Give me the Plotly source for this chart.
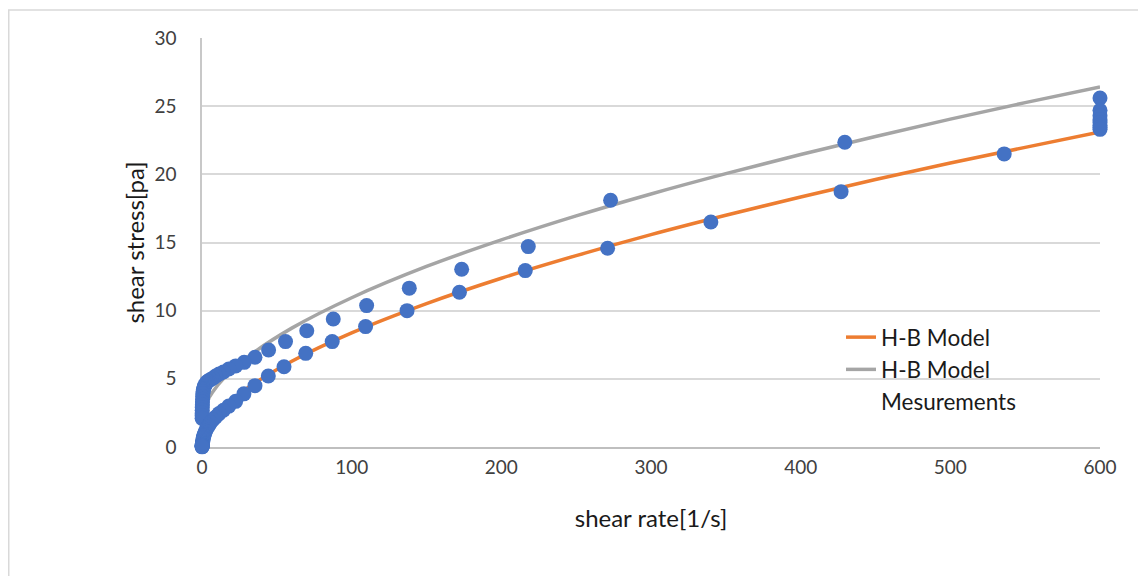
import plotly.graph_objects as go

# ---- data ----
model_x = [0, 1, 3, 7, 15, 30, 60, 100, 150, 200, 250, 300, 350, 400, 450, 500, 550, 600]
model_orange = [0.2, 0.78, 1.29, 1.97, 2.95, 4.29, 6.29, 8.37, 10.52, 12.38, 14.04, 15.58,
                17.00, 18.34, 19.62, 20.83, 21.98, 23.1]
model_gray = [2.0, 2.68, 3.26, 4.02, 5.09, 6.56, 8.72, 10.95, 13.24, 15.19, 16.95, 18.56,
              20.05, 21.45, 22.78, 24.05, 25.26, 26.41]

meas_upper_x = [600, 600, 600, 600, 600, 600, 600, 600, 429.5, 273, 218, 173.5, 138.5, 110,
                87.7, 70, 55.8, 44.5, 35.4, 28.2, 22.5, 17.9, 14.3, 11.4, 9.1, 7.3, 5.8, 4.6,
                3.7, 2.9, 2.3, 1.8, 1.45, 1.15, 0.92, 0.73, 0.58, 0.46, 0.37, 0.29, 0.23, 0.18,
                0.15, 0.12, 0.09, 0.07]
meas_upper_y = [25.6, 24.7, 24.3, 24.0, 23.8, 23.6, 23.45, 23.3, 22.35, 18.1, 14.7, 13.04, 11.65,
                10.37, 9.39, 8.53, 7.73, 7.12, 6.58, 6.21, 5.95, 5.72, 5.5, 5.35, 5.2, 5.05,
                4.95, 4.88, 4.8, 4.7, 4.6, 4.5, 4.4, 4.3, 4.2, 4.05, 3.9, 3.7, 3.5, 3.3, 3.1,
                2.9, 2.7, 2.5, 2.3, 2.1]

meas_lower_x = [536, 427, 340, 271, 216, 172, 137, 109.3, 87, 69.3, 54.8, 44.3, 35.4, 28, 22.5,
                17.9, 14.3, 11.4, 9.1, 7.3, 5.8, 4.6, 3.7, 2.9, 2.3, 1.8, 1.45, 1.15, 0.92,
                0.73, 0.58, 0.46, 0.37, 0.29, 0.23, 0.18, 0.15, 0.12, 0.09, 0.07, 0.06, 0.05]
meas_lower_y = [21.5, 18.73, 16.5, 14.58, 12.94, 11.35, 10.0, 8.83, 7.73, 6.87, 5.89, 5.21, 4.5,
                3.9, 3.35, 3.0, 2.7, 2.45, 2.2, 2.0, 1.8, 1.6, 1.45, 1.3, 1.15, 1.0, 0.9, 0.8,
                0.7, 0.6, 0.5, 0.42, 0.35, 0.28, 0.22, 0.17, 0.13, 0.1, 0.07, 0.05, 0.03, 0.01]

x_ticks = [0, 100, 200, 300, 400, 500, 600]
y_ticks = [0, 5, 10, 15, 20, 25, 30]

FONT = "Lato"
TXT = "#404040"
DARK = "#1a1a1a"

# figure pixel geometry (page is offset by the 8px body margin)
ML, MT, PW, PH = 194, 30, 898, 409

fig = go.Figure()

fig.add_trace(go.Scatter(x=model_x, y=model_orange, mode="lines", name="H-B Model",
                         line=dict(color="#ED7D31", width=3.5, shape="spline"),
                         legendgroup="a"))
fig.add_trace(go.Scatter(x=model_x, y=model_gray, mode="lines", name="H-B Model",
                         line=dict(color="#A5A5A5", width=3.5, shape="spline"),
                         legendgroup="b"))
fig.add_trace(go.Scatter(x=meas_upper_x + meas_lower_x, y=meas_upper_y + meas_lower_y,
                         mode="markers", name="Mesurements", showlegend=False,
                         marker=dict(color="#4472C4", size=15), cliponaxis=False))
# legend entry for the measurements (no visible symbol, as in the reference)
fig.add_trace(go.Scatter(x=[None], y=[None], mode="markers", name="Mesurements",
                         marker=dict(color="rgba(0,0,0,0)", size=1), legendgroup="c"))

fig.update_layout(
    width=1146, height=576, autosize=False,
    margin=dict(l=ML, r=1146 - ML - PW, t=MT, b=576 - MT - PH),
    paper_bgcolor="white", plot_bgcolor="white",
    font=dict(family=FONT, size=19, color=TXT),
    showlegend=True,
    legend=dict(x=0.7116, y=0.3203, xanchor="left", yanchor="top",
                bgcolor="rgba(0,0,0,0)", borderwidth=0,
                font=dict(family=FONT, size=22.5, color=DARK),
                tracegroupgap=0, itemwidth=30),
    xaxis=dict(range=[0, 600], tickvals=x_ticks, showgrid=False, zeroline=False,
               showline=True, linecolor="#bfbfbf", linewidth=2, layer="below traces",
               ticks="outside", ticklen=2, tickcolor="rgba(0,0,0,0)",
               tickfont=dict(family=FONT, size=19, color=TXT),
               title=dict(text="shear rate[1/s]", font=dict(family=FONT, size=24, color=DARK),
                          standoff=33)),
    yaxis=dict(range=[0, 30], tickvals=y_ticks, showgrid=True, gridcolor="#d9d9d9", gridwidth=1.5,
               zeroline=False, showline=True, linecolor="#c8c8c8", linewidth=1.5,
               layer="below traces",
               ticks="outside", ticklen=20, tickcolor="rgba(0,0,0,0)",
               tickfont=dict(family=FONT, size=19, color=TXT),
               title=dict(text="shear stress[pa]", font=dict(family=FONT, size=24, color=DARK),
                          standoff=3)),
    shapes=[dict(type="rect", xref="paper", yref="paper",
                 x0=(0.75 - ML) / PW, x1=(1160 - ML) / PW,
                 y0=(MT + PH - 590) / PH, y1=(MT + PH - 2) / PH,
                 line=dict(color="#d9d9d9", width=1.5), fillcolor="rgba(0,0,0,0)", layer="below")],
)

fig.write_html("out.html")
